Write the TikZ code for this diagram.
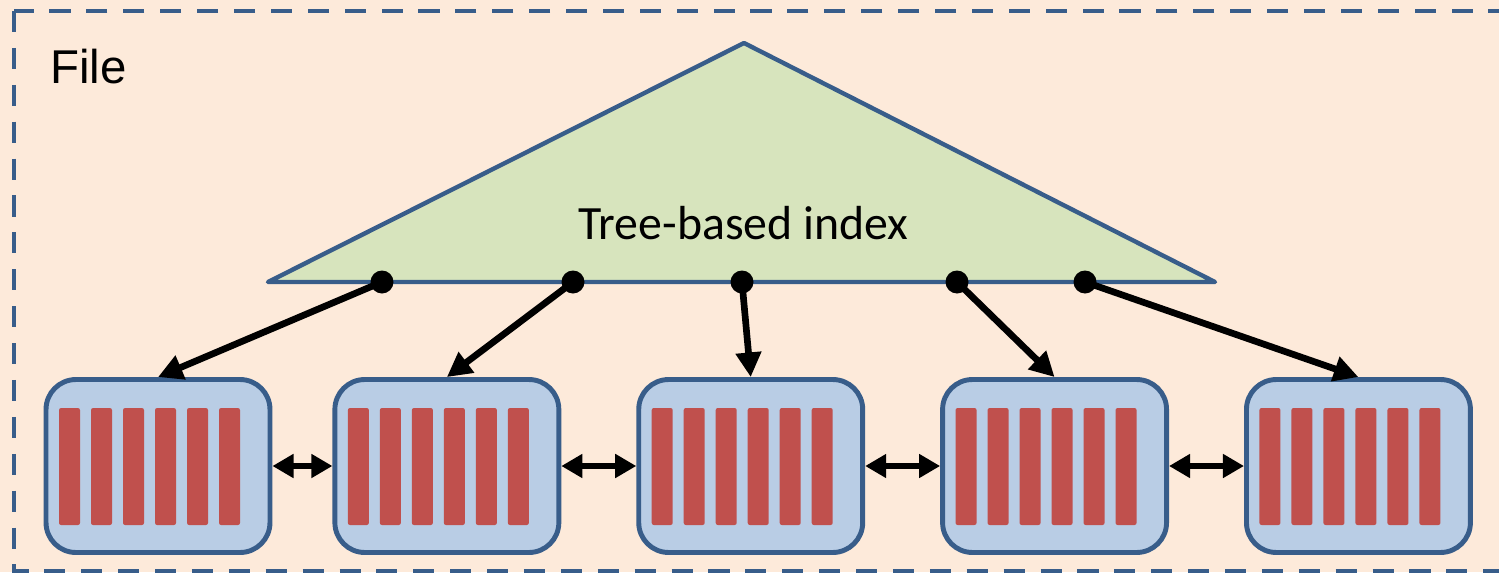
\documentclass[tikz,border=0pt]{standalone}
\usepackage{fontspec}
\usepackage{xcolor}
\usepackage{tikz}
\usetikzlibrary{arrows.meta,positioning,calc}

\newfontfamily\calibfont{Carlito}
\newfontfamily\arialfont{Liberation Sans}

\definecolor{bgpeach}{HTML}{FDEADA}
\definecolor{frameblue}{HTML}{385D8A}
\definecolor{treegreen}{HTML}{D7E4BD}
\definecolor{pageblue}{HTML}{B9CDE5}
\definecolor{recred}{HTML}{C0504D}

\begin{document}
\begin{tikzpicture}[
  x=0.02cm, y=-0.02cm,
  filebox/.style={draw=frameblue, line width=2.8pt, dash pattern=on 12pt off 9pt},
  tree/.style={draw=frameblue, fill=treegreen, line width=2.5pt, line join=round},
  page/.style={draw=frameblue, fill=pageblue, line width=2.8pt, rounded corners=17pt,
               minimum width=4.48cm, minimum height=3.46cm, inner sep=0pt},
  rec/.style={fill=recred, rounded corners=1.2pt},
  dot/.style={circle, fill=black, inner sep=0pt, minimum size=0.46cm},
  arr/.style={-{Triangle[length=14pt, width=14pt]}, line width=3.8pt},
  link/.style={{Triangle[length=12pt, width=13pt]}-{Triangle[length=12pt, width=13pt]}, line width=3.8pt}
]
  \useasboundingbox (0,0) rectangle (1499,572);
  \clip (0,0) rectangle (1499,572);
  \fill[bgpeach] (0,0) rectangle (1499,572);

  % dashed file border, runs off the right and bottom edge
  \draw[filebox] (14,11) rectangle (1530,571);
  \node[anchor=base west, inner sep=0pt, font=\arialfont\fontsize{27}{32}\selectfont] (file) at (50,83) {File};

  % index triangle
  \draw[tree] (268,282) -- (744,43) -- (1215,282) -- cycle;
  \node[anchor=base, inner sep=0pt, font=\calibfont\fontsize{27.2}{32}\selectfont] (idx) at (743.5,239) {Tree-based index};

  % leaf pages
  \node[page] (b1) at (158,466) {};
  \node[page, right=1.2cm of b1] (b2) {};
  \node[page, right=1.5cm of b2] (b3) {};
  \node[page, right=1.5cm of b3] (b4) {};
  \node[page, right=1.5cm of b4] (b5) {};

  % records inside each page
  \foreach \b in {b1,b2,b3,b4,b5}
    \foreach \k in {0,...,5}
      \fill[rec] ($(\b)+(-99+32*\k,-58)$) rectangle +(21,117);

  % pointers from the index
  \foreach \x [count=\i] in {382,573,742,957,1085}
    \node[dot] (d\i) at (\x,282) {};
  \foreach \i in {1,...,5}
    \draw[arr] (d\i.center) -- (b\i.north);

  % sibling links
  \draw[link] (b1) -- (b2);
  \draw[link] (b2) -- (b3);
  \draw[link] (b3) -- (b4);
  \draw[link] (b4) -- (b5);
\end{tikzpicture}
\end{document}
